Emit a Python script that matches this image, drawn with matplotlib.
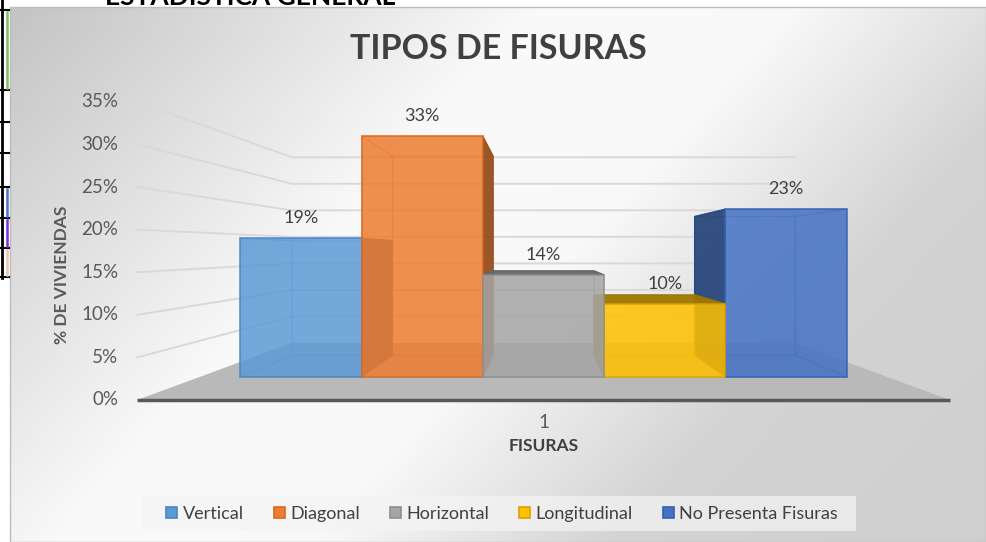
import numpy as np
import matplotlib
matplotlib.use("Agg")
import matplotlib.pyplot as plt
from matplotlib.patches import Polygon, Patch, Rectangle
from matplotlib.colors import to_rgb

plt.rcParams["font.family"] = ["Lato", "DejaVu Sans"]

# datos del grafico
SERIES = ["Vertical", "Diagonal", "Horizontal", "Longitudinal", "No Presenta Fisuras"]
PCT = [19, 33, 14, 10, 23]
COLORS = ["#5B9BD5", "#ED7D31", "#A5A5A5", "#FFC000", "#4472C4"]
EDGES = ["#4a86c4", "#d8691f", "#8f8f8f", "#d9a400", "#3461b0"]
YTICKS = [0, 5, 10, 15, 20, 25, 30, 35]
CATEGORY = "1"

W, H = 986, 542
TXT = "#404040"
# escala de la cara frontal de las barras (px por barra, px por %)
BAR_PX, PCT_PX = 121.3, 7.3
X0_PX, Y0_PX = 300.9, 377.0
# planos de profundidad: (escala x hacia el centro, desplazamiento y, escala y)
FLOOR_FRONT = (1.34, -3.15, 1.167)
BAR_FRONT = (1.0, 0.0, 1.0)
BAR_BACK = (0.83, 3.0, 0.826)
WALL_BACK = (0.83, 4.66, 0.727)
XC = (len(SERIES) - 1) / 2


def proj(x, v, plane):
    sx, y0, sy = plane
    return XC + sx * (x - XC), y0 + sy * v


def shade(c, f):
    return tuple(np.array(to_rgb(c)) * f)


fig = plt.figure(figsize=(W / 100, H / 100), dpi=100)

# fondo (pixeles)
bg = fig.add_axes([0, 0, 1, 1])
bg.axis("off")
xx, yy = np.meshgrid(np.arange(10, W), np.arange(7, H))
t = xx + 0.9 * yy
g = np.interp(t, [0, 550, 800, 1100, 1500], [0.76, 0.98, 0.975, 0.83, 0.81])
bg.imshow(np.dstack([g, g, g]), extent=(10, W, H, 7), aspect="auto",
          interpolation="bilinear", zorder=0)
bg.add_patch(Rectangle((10, 7), W - 10, H - 7, fill=False, ec="#bdbdbd", lw=1, zorder=1))
# caja de la leyenda
bg.add_patch(Rectangle((143, 496), 713, 35, fc="#f4f4f4", ec="none", alpha=0.7, zorder=1))
bg.set_xlim(0, W); bg.set_ylim(H, 0)

# restos de la hoja a la izquierda / arriba
bg.plot([2, 2], [0, 278], color="k", lw=2)
for yl in [10, 90, 122, 153, 187, 218, 248, 277]:
    bg.plot([0, 9], [yl, yl], color="k", lw=1.5)
for (y1, y2, c) in [(12, 88, "#7fbf5f"), (189, 216, "#4f6fd0"), (220, 246, "#7a2ee0"),
                    (250, 275, "#e8c8b0")]:
    bg.plot([7, 7], [y1, y2], color=c, lw=1.8)
bg.text(250, 5, "ESTADISTICA GENERAL", ha="center", va="baseline", fontsize=19,
        fontweight="bold", color="black")

bg.text(498, 59, "TIPOS DE FISURAS", ha="center", va="baseline", fontsize=24.5,
        fontweight="bold", color=TXT)
bg.text(62, 275, "% DE VIVIENDAS", ha="center", va="center", rotation=90,
        fontsize=12.5, fontweight="bold", color="#595959")

# ejes principales (coordenadas de la cara frontal de las barras)
ax = fig.add_axes([0, 0, 1, 1])
ax.patch.set_alpha(0)
ax.axis("off")
ax.set_xlim(-X0_PX / BAR_PX, (W - X0_PX) / BAR_PX)
ax.set_ylim((Y0_PX - H) / PCT_PX, Y0_PX / PCT_PX)

xl, xr = -0.5, len(SERIES) - 0.5
# lineas de division en pared lateral y pared del fondo
for v in YTICKS[1:]:
    fx, fy = proj(xl, v, FLOOR_FRONT)
    bx, by = proj(xl, v, WALL_BACK)
    rx, _ = proj(xr, v, WALL_BACK)
    ax.plot([fx, bx, rx], [fy, by, by], color="#d9d9d9", lw=1.4, zorder=1)

# piso
floor = [proj(xl, 0, FLOOR_FRONT), proj(xr, 0, FLOOR_FRONT),
         proj(xr, 0, WALL_BACK), proj(xl, 0, WALL_BACK)]
ax.add_patch(Polygon(floor, closed=True, fc="#b9b9b9", ec="none", zorder=2))
(f0x, f0y), (f1x, _) = floor[0], floor[1]
ax.plot([f0x, f1x], [f0y, f0y], color="#595959", lw=2.5, zorder=3, solid_capstyle="butt")

# etiquetas del eje y
for v in YTICKS:
    x, y = proj(xl, v, FLOOR_FRONT)
    ax.annotate(f"{v}%", (x, y), xytext=(-13.5, 0), textcoords="offset points",
                ha="right", va="center", fontsize=13.5, color="#595959")

cx, cy = proj(XC, 0, FLOOR_FRONT)
ax.annotate(CATEGORY, (cx, cy), xytext=(0, -16.5), textcoords="offset points",
            ha="center", va="center", fontsize=13.5, color="#595959")
ax.annotate("FISURAS", (cx, cy), xytext=(0, -33), textcoords="offset points",
            ha="center", va="center", fontsize=12.5, fontweight="bold", color=TXT)

# barras 3D (de afuera hacia el centro)
order = sorted(range(len(PCT)), key=lambda i: -abs(i - XC))
for k, i in enumerate(order):
    h, col, ec = PCT[i], COLORS[i], EDGES[i]
    a, b = i - 0.5, i + 0.5
    z = 4 + k * 3
    F, B = BAR_FRONT, BAR_BACK
    faces = {
        "back": [proj(a, 0, B), proj(b, 0, B), proj(b, h, B), proj(a, h, B)],
        "left": [proj(a, 0, F), proj(a, 0, B), proj(a, h, B), proj(a, h, F)],
        "right": [proj(b, 0, F), proj(b, 0, B), proj(b, h, B), proj(b, h, F)],
        "bottom": [proj(a, 0, F), proj(b, 0, F), proj(b, 0, B), proj(a, 0, B)],
        "top": [proj(a, h, F), proj(b, h, F), proj(b, h, B), proj(a, h, B)],
    }
    outside = {
        "back": False,
        "left": proj(a, h, B)[0] < a,
        "right": proj(b, h, B)[0] > b,
        "bottom": False,
        "top": proj(a, h, B)[1] > h,
    }
    for name, pts in faces.items():
        if outside[name]:
            ax.add_patch(Polygon(pts, closed=True, fc=shade(col, 0.62), ec=shade(ec, 0.7),
                                 lw=0.8, alpha=0.93, zorder=z + 1))
        else:
            ax.add_patch(Polygon(pts, closed=True, fc=col, ec=ec, lw=0.8,
                                 alpha=0.33, zorder=z))
    ax.bar(i, h, width=1.0, color=col, alpha=0.78, edgecolor=ec, lw=1.3, zorder=z + 2)
    ax.annotate(f"{h}%", (i, h), xytext=(0, 14.5), textcoords="offset points",
                ha="center", va="center", fontsize=13, color=TXT, zorder=30)

# leyenda
handles = [Patch(facecolor=c, edgecolor=e, lw=1.2) for c, e in zip(COLORS, EDGES)]
leg = fig.legend(handles, SERIES, loc="center", bbox_to_anchor=(502 / W, 1 - 514 / H),
                 ncol=5, fontsize=13, labelcolor=TXT, handlelength=0.62, handleheight=0.62,
                 handletextpad=0.3, columnspacing=1.65, frameon=False, borderaxespad=0)

fig.savefig("out.png", dpi=100)
